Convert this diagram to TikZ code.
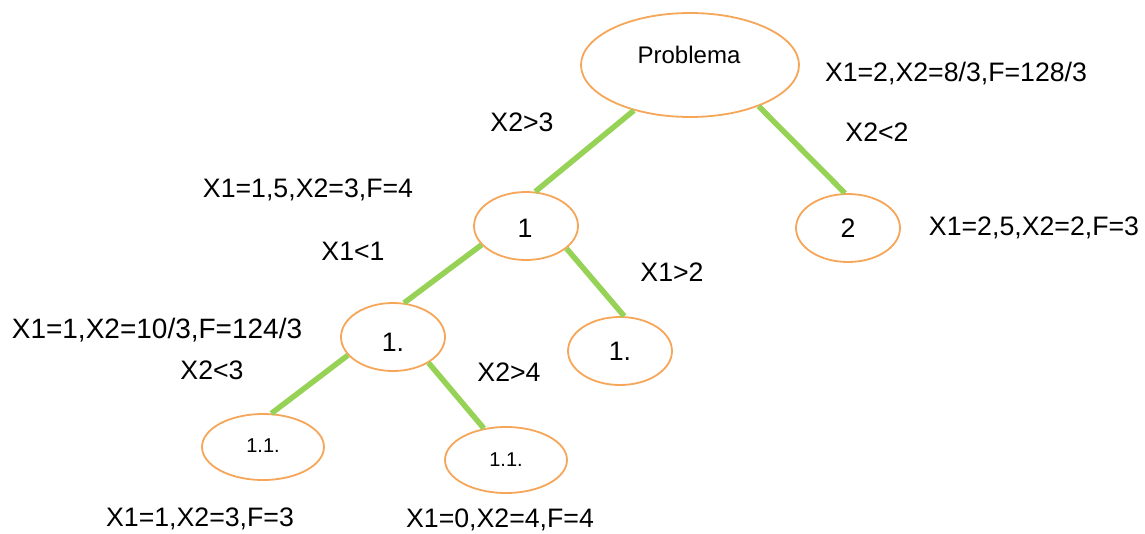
\documentclass[tikz,border=0pt]{standalone}
\usepackage{fontspec}
\setmainfont{Liberation Sans}
\usetikzlibrary{shapes.geometric}
\definecolor{ellorange}{RGB}{246,166,88}
\definecolor{linegreen}{RGB}{150,210,85}
\tikzset{
  ell/.style={ellipse, draw=ellorange, line width=1.8pt, inner sep=0pt, fill=white},
  big/.style={ell, minimum width=218pt, minimum height=104pt},
  mid/.style={ell, minimum width=104pt, minimum height=68pt},
  small/.style={ell, minimum width=122pt, minimum height=66pt},
  lbl/.style={inner sep=0pt, font=\fontsize{26.7}{30}\selectfont},
  edge/.style={draw=linegreen, line width=5.5pt}
}
\begin{document}
\begin{tikzpicture}[x=1pt,y=-1pt]
\useasboundingbox (0,0) rectangle (1145,533);
% nodes
\node[big] (p) at (690,65) {};
\node[lbl, font=\fontsize{24}{28}\selectfont] (pt) at (689,55) {Problema};
\node[mid] (n1) at (526,226) {};
\node[lbl] (n1t) at (525,228) {1};
\node[mid] (n2) at (848,228) {};
\node[lbl] (n2t) at (848,228) {2};
\node[mid] (n11) at (393,337) {};
\node[lbl] (n11t) at (393,342) {1.};
\node[mid] (n12) at (620,351) {};
\node[lbl] (n12t) at (620,351) {1.};
\node[small] (a) at (263,447) {};
\node[lbl, font=\fontsize{20}{24}\selectfont] (at) at (263,446) {1.1.};
\node[small] (b) at (506,460) {};
\node[lbl, font=\fontsize{20}{24}\selectfont] (bt) at (506,460) {1.1.};
% edges
\draw[edge] (p.219) -- (n1.75);
\draw[edge] (p.329) -- (n2.95);
\draw[edge] (n1.203) -- (n11.72);
\draw[edge] (n1.331) -- (n12.83);
\draw[edge] (n11.202) -- (a.76);
\draw[edge] (n11.324) -- (b.125);
% labels
\node[lbl] (l1) at (956,74) {X1=2,X2=8/3,F=128/3};
\node[lbl] (l2) at (522,122) {X2>3};
\node[lbl] (l3) at (877,132) {X2<2};
\node[lbl] (l4) at (308,190) {X1=1,5,X2=3,F=4};
\node[lbl] (l5) at (1034,228) {X1=2,5,X2=2,F=3};
\node[lbl] (l6) at (353,251) {X1<1};
\node[lbl] (l7) at (672,272) {X1>2};
\node[lbl, font=\fontsize{28}{32}\selectfont] (l8) at (157,330) {X1=1,X2=10/3,F=124/3};
\node[lbl] (l9) at (212,370) {X2<3};
\node[lbl] (l10) at (509,372) {X2>4};
\node[lbl] (l11) at (200,519) {X1=1,X2=3,F=3};
\node[lbl] (l12) at (500,520) {X1=0,X2=4,F=4};
\end{tikzpicture}
\end{document}
